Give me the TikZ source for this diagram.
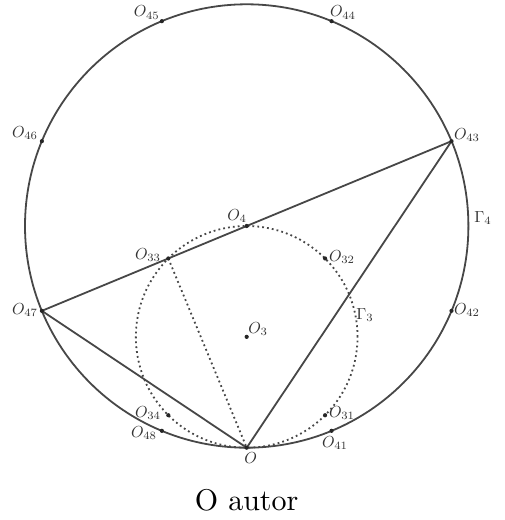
\documentclass[tikz,border=0pt]{standalone}
\usetikzlibrary{calc}
\begin{document}
\begin{tikzpicture}[x=1pt,y=1pt,
  solidline/.style={draw=black!72,line width=1.8pt},
  dotline/.style={draw=black!72,line width=1.8pt,dash pattern=on 1.8pt off 3.1pt},
  pt/.style={circle,fill=black!85,inner sep=0pt,minimum size=4.2pt},
  lbl/.style={text=black!80,inner sep=0pt,scale=1.6}]
\useasboundingbox (0,0) rectangle (505,520);
% centres
\coordinate (O4) at (246.7,294);
\coordinate (O3) at (246.7,183.15);
% points on the big circle
\coordinate (O43) at ($(O4)+(22.5:221.7)$);
\coordinate (O44) at ($(O4)+(67.5:221.7)$);
\coordinate (O45) at ($(O4)+(112.5:221.7)$);
\coordinate (O46) at ($(O4)+(157.5:221.7)$);
\coordinate (O47) at ($(O4)+(202.5:221.7)$);
\coordinate (O48) at ($(O4)+(247.5:221.7)$);
\coordinate (O)   at ($(O4)+(270:221.7)$);
\coordinate (O41) at ($(O4)+(292.5:221.7)$);
\coordinate (O42) at ($(O4)+(337.5:221.7)$);
% points on the small circle
\coordinate (O31) at ($(O3)+(-45:110.85)$);
\coordinate (O32) at ($(O3)+(45:110.85)$);
\coordinate (O33) at ($(O3)+(135:110.85)$);
\coordinate (O34) at ($(O3)+(225:110.85)$);
% circles
\draw[solidline] (O4) circle[radius=221.7];
\draw[dotline] (O3) circle[radius=110.85];
% segments
\draw[solidline] (O47) -- (O43);
\draw[solidline] (O47) -- (O) -- (O43);
\draw[dotline] (O33) -- (O);
% dots
\foreach \p in {O41,O42,O43,O44,O45,O46,O47,O48,O,O31,O32,O33,O34,O3,O4}
  \node[pt] (d\p) at (\p) {};
% labels
\node[lbl] (l45) at (146.7,507.3) {$O_{45}$};
\node[lbl] (l44) at (343,507.3) {$O_{44}$};
\node[lbl] (l46) at (25,387) {$O_{46}$};
\node[lbl] (l43) at (467,385) {$O_{43}$};
\node[lbl] (g4)  at (483,302) {$\Gamma_4$};
\node[lbl] (l4)  at (237,304) {$O_4$};
\node[lbl] (l33) at (148,265) {$O_{33}$};
\node[lbl] (l32) at (342,263) {$O_{32}$};
\node[lbl] (l47) at (25,210) {$O_{47}$};
\node[lbl] (g3)  at (365,205) {$\Gamma_3$};
\node[lbl] (l42) at (467,210) {$O_{42}$};
\node[lbl] (l3)  at (258,191) {$O_3$};
\node[lbl] (l34) at (148,107) {$O_{34}$};
\node[lbl] (l31) at (342,107) {$O_{31}$};
\node[lbl] (l48) at (144,87) {$O_{48}$};
\node[lbl] (l41) at (335,77) {$O_{41}$};
\node[lbl] (lO)  at (250.7,62) {$O$};
\node[inner sep=0pt,scale=3.0] (cap) at (246.7,20) {O autor};
\end{tikzpicture}
\end{document}
